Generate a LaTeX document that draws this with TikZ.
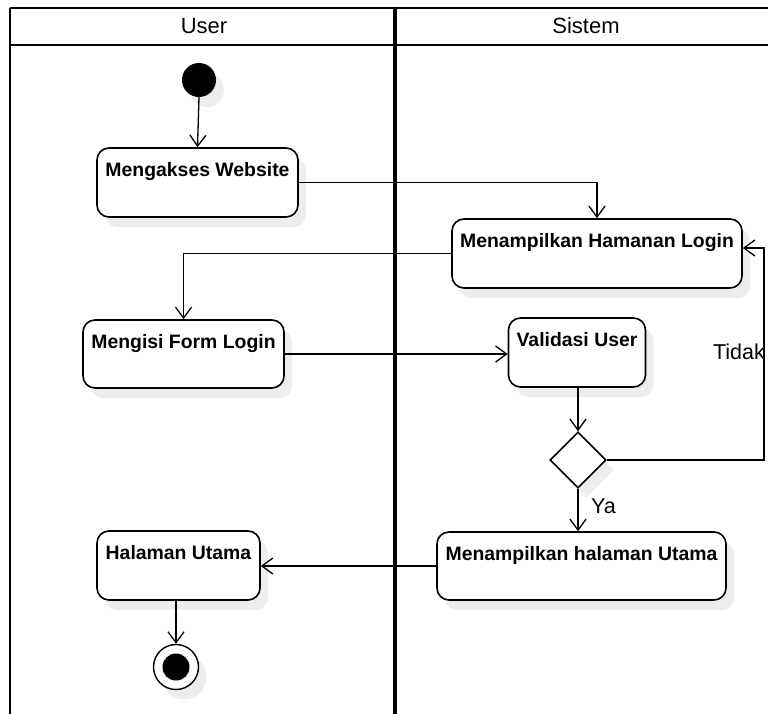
\documentclass[tikz,border=0pt]{standalone}
\usepackage{fontspec}
\setmainfont{Liberation Sans}
\usetikzlibrary{arrows.meta,shapes.geometric,shadows}
\begin{document}
\begin{tikzpicture}[x=1pt,y=-1pt,
  lane/.style={line width=2.8pt},
  shade/.style={drop shadow={shadow xshift=8pt, shadow yshift=-10pt, fill=black!7, opacity=1}},
  box/.style={draw, line width=1.6pt, rounded corners=12pt, fill=white, inner sep=0pt, shade},
  lbl/.style={font=\bfseries\fontsize{19.4}{21}\selectfont, anchor=base, inner sep=0pt},
  head/.style={font=\fontsize{22}{25}\selectfont, anchor=base, inner sep=0pt},
  guard/.style={font=\fontsize{21.5}{24}\selectfont, inner sep=0pt},
  flow/.style={line width=1.3pt, -{Straight Barb[length=11pt,width=16pt,line width=1.3pt]}}
]
\useasboundingbox (0,0) rectangle (768,713);

% swimlane frame
\draw[lane] (10,8) -- (770,8);
\draw[lane] (10,45) -- (770,45);
\draw[lane] (10,8) -- (10,716);
\draw[line width=3.8pt] (395,8) -- (395,716);
\node[head] (huser) at (204,33) {User};
\node[head] (hsys) at (586,33) {Sistem};

% initial and final states
\node[circle, fill=black, minimum size=34pt, inner sep=0pt, shade] (start) at (199,80) {};
\node[circle, draw, line width=1.4pt, fill=white, minimum size=45pt, inner sep=0pt, shade] (final) at (176,667) {};
\node[circle, fill=black, minimum size=27pt, inner sep=0pt] (finaldot) at (final.center) {};

% activities
\node[box, minimum width=201pt, minimum height=69pt] (web) at (197.5,182.5) {};
\node[lbl] (tweb) at ([yshift=-29pt]web.north) {Mengakses Website};

\node[box, minimum width=290pt, minimum height=69pt] (hlogin) at (597,253.5) {};
\node[lbl] (thlogin) at ([yshift=-29pt]hlogin.north) {Menampilkan Hamanan Login};

\node[box, minimum width=201pt, minimum height=68pt] (form) at (183.5,354) {};
\node[lbl] (tform) at ([yshift=-29pt]form.north) {Mengisi Form Login};

\node[box, minimum width=137pt, minimum height=69pt] (valid) at (577,352.5) {};
\node[lbl] (tvalid) at ([yshift=-29pt]valid.north) {Validasi User};

\node[draw, diamond, aspect=1, line width=1.6pt, fill=white, minimum width=56pt, minimum height=56pt, inner sep=0pt, shade] (dec) at (578,460) {};

\node[box, minimum width=289pt, minimum height=68pt] (hutama) at (581.5,566) {};
\node[lbl] (thutama) at ([yshift=-29pt]hutama.north) {Menampilkan halaman Utama};

\node[box, minimum width=163pt, minimum height=69pt] (halaman) at (178.5,565.5) {};
\node[lbl] (thalaman) at ([yshift=-29pt]halaman.north) {Halaman Utama};

% guard labels
\node[guard, anchor=base east] (tidak) at (765,359) {Tidak};
\node[guard, anchor=base west] (ya) at (591,513) {Ya};

% control flow
\coordinate (tk) at (764,248);
\draw[flow] (start.south) -- (web.north);
\draw[flow] (web.east) -| (hlogin.north);
\draw[flow] (hlogin.west) -| (form.north);
\draw[flow] (form.east) -- (form.east -| valid.west);
\draw[flow] (valid.south -| dec.north) -- (dec.north);
\draw[flow] (dec.east) -| (tk) -- (hlogin.east |- tk);
\draw[flow] (dec.south) -- (dec.south |- hutama.north);
\draw[flow] (hutama.west) -- (hutama.west -| halaman.east);
\draw[flow] (halaman.south -| final.north) -- (final.north);
\end{tikzpicture}
\end{document}
